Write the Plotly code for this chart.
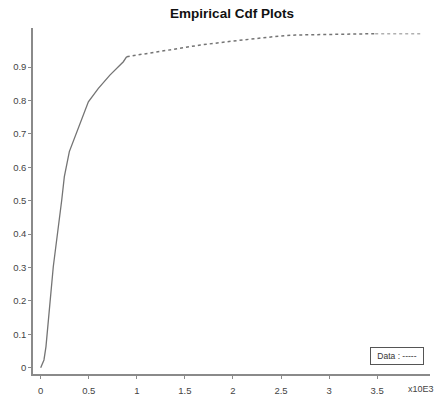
import plotly.graph_objects as go

# Empirical CDF data (x in units of 10^3)
x_steep = [0.0, 0.034, 0.055, 0.131, 0.219, 0.246, 0.298, 0.41, 0.496, 0.6, 0.72, 0.86, 0.895]
y_steep = [0.0, 0.023, 0.063, 0.302, 0.502, 0.572, 0.647, 0.732, 0.796, 0.836, 0.876, 0.916, 0.931]
x_tail = [0.895, 1.2, 1.5, 1.66, 2.0, 2.25, 2.49, 2.65, 3.0, 3.48]
y_tail = [0.931, 0.945, 0.958, 0.966, 0.978, 0.986, 0.993, 0.996, 0.998, 1.0]
x_end = [3.48, 3.96]
y_end = [1.0, 1.0]

x_tickvals = [0, 0.5, 1, 1.5, 2, 2.5, 3, 3.5]
x_ticktext = ["0", "0.5", "1", "1.5", "2", "2.5", "3", "3.5"]
y_tickvals = [0, 0.1, 0.2, 0.3, 0.4, 0.5, 0.6, 0.7, 0.8, 0.9]
y_ticktext = ["0", "0.1", "0.2", "0.3", "0.4", "0.5", "0.6", "0.7", "0.8", "0.9"]

line_col = "#747474"
axis_col = "#8a8a8a"
font = "Liberation Sans, Arial, sans-serif"

fig = go.Figure()
fig.add_trace(go.Scatter(x=x_steep, y=y_steep, mode="lines",
                         line=dict(color=line_col, width=1.3), showlegend=False))
fig.add_trace(go.Scatter(x=x_tail, y=y_tail, mode="lines", name="Data",
                         line=dict(color=line_col, width=1.5, dash="dot"), showlegend=False))
fig.add_trace(go.Scatter(x=x_end, y=y_end, mode="lines",
                         line=dict(color="#b0b0b0", width=1.5, dash="dot"), showlegend=False))

fig.update_layout(
    width=438, height=399,
    margin=dict(l=33, r=8, t=28, b=25, autoexpand=False),
    paper_bgcolor="white", plot_bgcolor="white",
    showlegend=False,
    font=dict(family=font, size=9.5, color="#444"),
    title=dict(text="<b>Empirical Cdf Plots</b>", x=232/438, xanchor="center",
               y=1 - 13.5/399, yanchor="middle", yref="container",
               font=dict(family=font, size=13.5, color="#111")),
    xaxis=dict(range=[-0.08, 4.05], showline=True, linecolor=axis_col, linewidth=1.5,
               ticks="outside", ticklen=3, tickcolor=axis_col, tickwidth=1,
               tickvals=x_tickvals, ticktext=x_ticktext, ticklabelstandoff=4,
               automargin=False,
               showgrid=False, zeroline=False, fixedrange=True),
    yaxis=dict(range=[-0.019, 1.017], showline=True, linecolor=axis_col, linewidth=1.5,
               ticks="outside", ticklen=3, tickcolor=axis_col, tickwidth=1,
               tickvals=y_tickvals, ticktext=y_ticktext, automargin=False,
               showgrid=False, zeroline=False, fixedrange=True),
)

fig.add_annotation(text="x10E3", xref="paper", yref="paper",
                   x=(421 - 33) / (438 - 33 - 8), y=-(389 - 374) / (399 - 28 - 25),
                   xanchor="center", yanchor="middle", showarrow=False,
                   font=dict(family=font, size=9, color="#444"))

fig.add_annotation(text="Data : -----", xref="paper", yref="paper",
                   x=(397 - 33) / (438 - 33 - 8), y=(374 - 356) / (399 - 28 - 25),
                   xanchor="center", yanchor="middle", showarrow=False,
                   bordercolor="#555", borderwidth=1, borderpad=3, bgcolor="white",
                   width=46,
                   font=dict(family=font, size=8.5, color="#333"))

fig.write_html("out.html")
